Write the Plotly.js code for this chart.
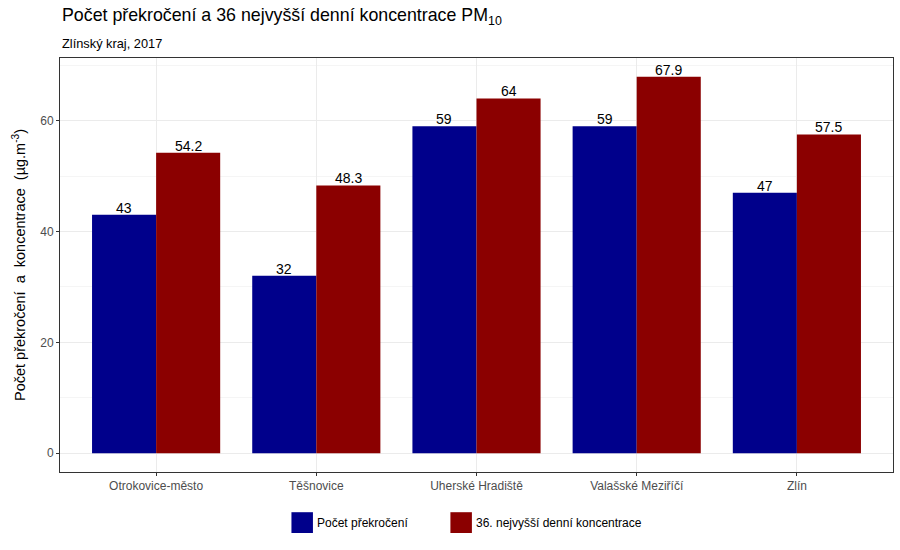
<!DOCTYPE html>
<html>
<head>
<meta charset="utf-8">
<script src="https://cdn.plot.ly/plotly-3.0.1.min.js"></script>
<style>html,body{margin:0;padding:0;background:#fff;}#chart{width:900px;height:550px;}</style>
</head>
<body>
<div id="chart"></div>
<script>
const stations = ["Otrokovice-město", "Těšnovice", "Uherské Hradiště", "Valašské Meziříčí", "Zlín"];
const exceedances = [43, 32, 59, 59, 47];
const conc36 = [54.2, 48.3, 64, 67.9, 57.5];
const seriesNames = ["Počet překročení", "36. nejvyšší denní koncentrace"];
const seriesColors = ["#00008B", "#8B0000"];
const yTicks = [0, 20, 40, 60];

const F = "Liberation Sans, Arial, sans-serif";
const L = 59.5, R = 892.7, T = 58.3, B = 472.3;
const px = x => (x - L) / (R - L);
const py = y => (B - y) / (B - T);

const traces = [exceedances, conc36].map((vals, i) => ({
  type: "bar",
  x: stations,
  y: vals,
  name: seriesNames[i],
  marker: {color: seriesColors[i], line: {width: 0}},
  showlegend: false,
  hoverinfo: "x+y"
}));

const shapes = [];
const annotations = [
  {xref: "paper", yref: "paper", x: px(59), y: py(17), xanchor: "left", yanchor: "middle",
   text: "Počet překročení a 36 nejvyšší denní koncentrace PM<sub>10</sub>", showarrow: false,
   font: {family: F, size: 17.8, color: "#000"}},
  {xref: "paper", yref: "paper", x: px(59), y: py(44), xanchor: "left", yanchor: "middle",
   text: "Zlínský kraj, 2017", showarrow: false,
   font: {family: F, size: 12.8, color: "#000"}}
];
// value labels above bars, positioned through the axes
const series = [exceedances, conc36];
series.forEach((vals, i) => {
  vals.forEach((v, j) => {
    annotations.push({xref: "x", yref: "y", x: j + (i === 0 ? -0.2 : 0.2), y: v,
      xanchor: "center", yanchor: "bottom", yshift: -3, text: String(v), showarrow: false,
      font: {family: F, size: 14, color: "#000"}});
  });
});
// custom legend
const legX = [291, 450];
seriesNames.forEach((n, i) => {
  shapes.push({type: "rect", xref: "paper", yref: "paper",
    x0: px(legX[i]), x1: px(legX[i] + 21.5), y0: py(533.3), y1: py(512.5),
    fillcolor: seriesColors[i], line: {width: 0}});
  annotations.push({xref: "paper", yref: "paper", x: px(legX[i] + 24), y: py(523),
    xanchor: "left", yanchor: "middle", text: n, showarrow: false,
    font: {family: F, size: 12, color: "#000"}});
});

const layout = {
  width: 900, height: 550,
  margin: {l: L, r: 900 - R, t: T, b: 550 - B, pad: 0},
  paper_bgcolor: "#fff", plot_bgcolor: "#fff",
  barmode: "group", bargap: 0.2, bargroupgap: 0,
  showlegend: false,
  font: {family: F},
  xaxis: {
    type: "category", range: [-0.6, 4.6],
    showgrid: true, gridcolor: "#ebebeb", gridwidth: 1,
    ticks: "outside", ticklen: 3, tickcolor: "#333", tickwidth: 1,
    tickfont: {family: F, size: 12, color: "#4d4d4d"},
    showline: true, linecolor: "#333", linewidth: 1, mirror: true,
    zeroline: false, fixedrange: true
  },
  yaxis: {
    range: [-3.395, 71.295],
    tickvals: yTicks, ticktext: yTicks.map(String),
    showgrid: true, gridcolor: "#ebebeb", gridwidth: 1,
    minor: {tickvals: [10, 30, 50, 70], showgrid: true, gridcolor: "#f5f5f5", gridwidth: 1, ticks: ""},
    ticks: "outside", ticklen: 3, tickcolor: "#333", tickwidth: 1,
    tickfont: {family: F, size: 12, color: "#4d4d4d"},
    showline: true, linecolor: "#333", linewidth: 1, mirror: true,
    zeroline: false,
    title: {text: "Počet překročení  a  koncentrace  (µg.m<sup>-3</sup>)", font: {family: F, size: 14.5, color: "#000"}, standoff: 11},
    fixedrange: true
  },
  shapes: shapes,
  annotations: annotations
};

Plotly.newPlot("chart", traces, layout, {displayModeBar: false, staticPlot: true});
</script>
</body>
</html>
